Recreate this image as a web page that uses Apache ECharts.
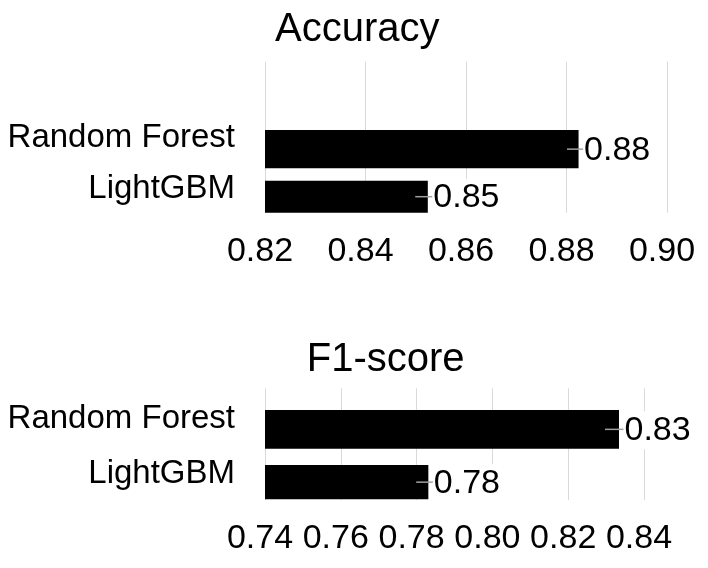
<!DOCTYPE html>
<html><head><meta charset="utf-8">
<script src="https://cdn.jsdelivr.net/npm/echarts@6/dist/echarts.min.js"></script>
<style>html,body{margin:0;padding:0;background:#fff}#c{width:708px;height:568px}</style>
</head><body><div id="c"></div>
<script>
// ---- data ----
const models = ['Random Forest', 'LightGBM'];
const accuracy = [0.8824, 0.8524];
const accuracyErr = [0.0023, 0.0025];
const f1Score = [0.8334, 0.7831];
const f1Err = [0.0037, 0.0032];
const accTicks = [0.82, 0.84, 0.86, 0.88, 0.90];
const f1Ticks = [0.74, 0.76, 0.78, 0.80, 0.82, 0.84];
const titles = ['Accuracy', 'F1-score'];

// ---- layout ----
const FONT = '"Liberation Sans", Arial, sans-serif';
const panels = [
  { title: titles[0], values: accuracy, errs: accuracyErr, ticks: accTicks,
    titleLeft: 275, titleTop: 10, left: 265, width: 402,
    gridTop: 61.7, gridH: 151, barTop: 120.65, barH: 101.4, bw: [38.3, 32] },
  { title: titles[1], values: f1Score, errs: f1Err, ticks: f1Ticks,
    titleLeft: 306.7, titleTop: 340, left: 265, width: 379,
    gridTop: 388.3, gridH: 111.7, barTop: 399.65, barH: 110, bw: [38.7, 34.3] }
];

const option = { animation: false, backgroundColor: '#fff', textStyle: { fontFamily: FONT },
  title: [], grid: [], xAxis: [], yAxis: [], series: [] };

panels.forEach((p, k) => {
  const ga = 2 * k, gb = 2 * k + 1;
  const mn = p.ticks[0], mx = p.ticks[p.ticks.length - 1];
  const iv = +(p.ticks[1] - p.ticks[0]).toFixed(4);
  option.title.push({ text: p.title, left: p.titleLeft, top: p.titleTop, padding: 0,
    textStyle: { fontSize: 40, fontWeight: 'normal', color: '#000', fontFamily: FONT } });
  option.grid.push({ left: p.left, width: p.width, top: p.gridTop, height: p.gridH, containLabel: false });
  option.grid.push({ left: p.left, width: p.width, top: p.barTop, height: p.barH, containLabel: false });
  option.xAxis.push({ gridIndex: ga, type: 'value', min: mn, max: mx, interval: iv,
    axisLine: { show: false }, axisTick: { show: false },
    splitLine: { show: true, lineStyle: { color: '#d9d9d9', width: 1 } },
    axisLabel: { fontSize: 34, color: '#000', margin: 22, padding: [0, 10, 0, 0], fontFamily: FONT,
      formatter: v => v.toFixed(2) } });
  option.xAxis.push({ gridIndex: gb, type: 'value', min: mn, max: mx, show: false, splitLine: { show: false } });
  option.yAxis.push({ gridIndex: ga, type: 'category', data: models, show: false });
  option.yAxis.push({ gridIndex: gb, type: 'category', data: models, inverse: true,
    axisLine: { show: false }, axisTick: { show: false }, splitLine: { show: false },
    axisLabel: { fontSize: 33, color: '#000', margin: 30, verticalAlign: 'bottom', lineHeight: 16,
      fontFamily: FONT } });
  const w1 = p.bw[0], w2 = p.bw[1];
  option.series.push({ type: 'bar', xAxisIndex: gb, yAxisIndex: gb, barWidth: w1, barGap: '-100%',
    data: [p.values[0], '-'], itemStyle: { color: '#000' }, z: 2 });
  option.series.push({ type: 'bar', xAxisIndex: gb, yAxisIndex: gb, barWidth: w2, barGap: '-100%',
    data: ['-', p.values[1]], itemStyle: { color: '#000' }, z: 2 });
  option.series.push({ type: 'custom', xAxisIndex: gb, yAxisIndex: gb, z: 3,
    data: models.map((m, i) => [p.values[i] - p.errs[i], p.values[i] + p.errs[i], i, p.values[i]]),
    encode: { x: [0, 1, 3], y: 2 },
    renderItem: (params, api) => {
      const i = api.value(2);
      const lo = api.coord([api.value(0), i]);
      const hi = api.coord([api.value(1), i]);
      const end = api.coord([api.value(3), i]);
      const y = lo[1] + (i === 0 ? (w1 - w2) / 2 : 0);
      return { type: 'group', children: [
        { type: 'line', shape: { x1: lo[0], y1: y, x2: hi[0], y2: y },
          style: { stroke: '#a0a0a0', lineWidth: 1.5 } },
        { type: 'text', x: end[0] + 4.5, y: y + 1,
          style: { text: api.value(3).toFixed(2), fill: '#000', fontSize: 34, fontFamily: FONT,
            align: 'left', verticalAlign: 'middle', backgroundColor: '#fff', padding: [2, 2, 2, 1] } }
      ] };
    } });
});

const chart = echarts.init(document.getElementById('c'), null, { renderer: 'canvas' });
chart.setOption(option);
</script></body></html>
